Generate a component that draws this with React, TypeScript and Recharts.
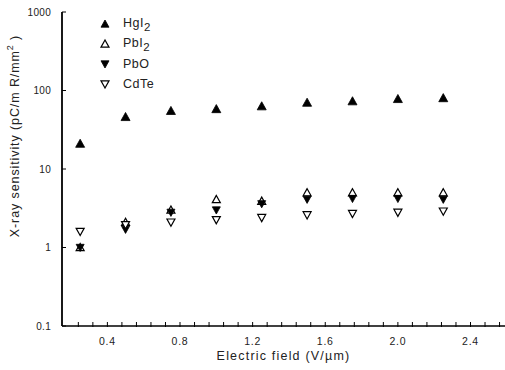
import React from 'react';
import { ScatterChart, Scatter, XAxis, YAxis, Legend } from 'recharts';

const fields = [0.25, 0.5, 0.75, 1.0, 1.25, 1.5, 1.75, 2.0, 2.25];
const hgi2 = [21, 46, 55, 58, 63, 70, 73, 78, 80];
const pbi2 = [1.0, 2.1, 3.0, 4.1, 3.9, 5.0, 5.0, 5.0, 5.0];
const pbo = [1.0, 1.7, 2.8, 3.0, 3.6, 4.1, 4.2, 4.2, 4.1];
const cdte = [1.6, 1.95, 2.1, 2.25, 2.4, 2.6, 2.7, 2.8, 2.9];

const xTicks = [0.24, 0.32, 0.4, 0.48, 0.56, 0.64, 0.72, 0.8, 0.88, 0.96, 1.04, 1.12, 1.2, 1.28, 1.36, 1.44, 1.52, 1.6, 1.68, 1.76, 1.84, 1.92, 2.0, 2.08, 2.16, 2.24, 2.32, 2.4, 2.48, 2.56];
const xMajor = ['0.4', '0.8', '1.2', '1.6', '2.0', '2.4'];
const yTicks = [0.1, 1, 10, 100, 1000];

const seriesNames = ['HgI2', 'PbI2', 'PbO', 'CdTe'];
const seriesBase = ['HgI', 'PbI', 'PbO', 'CdTe'];
const seriesSub = ['2', '2', '', ''];
const seriesDown = [false, false, true, true];
const seriesOpen = [false, true, false, true];
const seriesValues = [hgi2, pbi2, pbo, cdte];

const FONT = '"Liberation Sans", Arial, sans-serif';
const TXT = '#222';

function triPoints(cx: number, cy: number, down: boolean, s: number) {
  const h = s * 0.5;
  if (!down) return `${cx},${cy - h} ${cx - h},${cy + h * 0.8} ${cx + h},${cy + h * 0.8}`;
  return `${cx},${cy + h} ${cx - h},${cy - h * 0.8} ${cx + h},${cy - h * 0.8}`;
}

function makeShape(down: boolean, open: boolean, size: number) {
  return (props: any) => {
    const { cx, cy } = props;
    if (cx == null || cy == null) return <g />;
    return (
      <polygon
        points={triPoints(cx, cy, down, size)}
        fill={open ? '#fff' : '#000'}
        stroke="#000"
        strokeWidth={open ? 1.2 : 0.8}
      />
    );
  };
}

const XTick = (props: any) => {
  const { x, y, payload } = props;
  const v = payload.value as number;
  const lbl = v.toFixed(1);
  const isMajor = Math.round(v * 100) % 40 === 0 && xMajor.includes(lbl);
  return (
    <g>
      <line x1={x} x2={x} y1={y - 4} y2={y + 1} stroke="#000" strokeWidth={1} />
      {isMajor && (
        <text x={x} y={y + 19} textAnchor="middle" fontSize={10.5} letterSpacing={0.8} fontFamily={FONT} fill={TXT}>
          {lbl}
        </text>
      )}
    </g>
  );
};

const YTick = (props: any) => {
  const { x, y, payload } = props;
  return (
    <g>
      <line x1={x} x2={x + 4} y1={y} y2={y} stroke="#000" strokeWidth={1} />
      <text x={x - 11} y={y + 3.5} textAnchor="end" fontSize={10} letterSpacing={0.3} fontFamily={FONT} fill={TXT}>
        {String(payload.value)}
      </text>
    </g>
  );
};

const YLabel = (props: any) => {
  const vb = props.viewBox || { x: 0, y: 12, width: 62, height: 314 };
  const cx = vb.x + 16;
  const cy = vb.y + vb.height / 2 - 33;
  return (
    <text
      x={cx}
      y={cy}
      transform={`rotate(-90, ${cx}, ${cy})`}
      textAnchor="middle"
      dominantBaseline="middle"
      fontSize={12.5}
      letterSpacing={0.9}
      fontFamily={FONT}
      fill={TXT}
    >
      X-ray sensitivity (pC/m R/mm
      <tspan dy={-5} fontSize={9}>2</tspan>
      <tspan dy={5}> )</tspan>
    </text>
  );
};

const XLabel = (props: any) => {
  const vb = props.viewBox || { x: 62, y: 326, width: 443, height: 44 };
  return (
    <text
      x={vb.x + vb.width / 2}
      y={vb.y + 34}
      textAnchor="middle"
      fontSize={12.5}
      letterSpacing={1.2}
      fontFamily={FONT}
      fill={TXT}
    >
      Electric field (V/µm)
    </text>
  );
};

const LegendContent = () => {
  return (
    <div style={{ fontFamily: FONT, color: TXT, fontSize: 12.5, letterSpacing: 0.5 }}>
      {seriesNames.map((name, k) => (
        <div key={name} style={{ display: 'flex', alignItems: 'center', height: 20 }}>
          <svg width={12} height={12} style={{ marginRight: 12 }}>
            <polygon
              points={triPoints(6, 6, seriesDown[k], 8)}
              fill={seriesOpen[k] ? '#fff' : '#000'}
              stroke="#000"
              strokeWidth={seriesOpen[k] ? 1.2 : 0.8}
            />
          </svg>
          <span>
            {seriesBase[k]}
            {seriesSub[k] && <sub style={{ fontSize: 11.5, verticalAlign: -4 }}>{seriesSub[k]}</sub>}
          </span>
        </div>
      ))}
    </div>
  );
};

export default function App() {
  const sets = seriesValues.map((vals) => fields.map((x, i) => ({ x, y: vals[i] })));
  return (
    <div style={{ position: 'absolute', left: 0, top: 0, width: 505, height: 370, background: '#fff' }}>
      <ScatterChart width={505} height={370} margin={{ top: 12, right: 0, bottom: 0, left: 0 }}>
        <XAxis
          type="number"
          dataKey="x"
          domain={[0.15, 2.59]}
          ticks={xTicks}
          interval={0}
          allowDataOverflow
          tickSize={0}
          tickMargin={0}
          tickLine={false}
          tick={<XTick />}
          axisLine={{ stroke: '#000', strokeWidth: 1.5 }}
          height={44}
          label={<XLabel />}
        />
        <YAxis
          type="number"
          dataKey="y"
          scale="log"
          domain={[0.1, 1000]}
          ticks={yTicks}
          interval={0}
          allowDataOverflow
          tickSize={0}
          tickMargin={0}
          tickLine={false}
          tick={<YTick />}
          axisLine={{ stroke: '#000', strokeWidth: 1.8 }}
          width={62}
          label={<YLabel />}
        />
        <Legend
          layout="vertical"
          align="center"
          verticalAlign="middle"
          content={<LegendContent />}
          wrapperStyle={{ top: 14, left: 99, width: 'auto' }}
        />
        {sets.map((d, k) => (
          <Scatter
            key={seriesNames[k]}
            name={seriesNames[k]}
            data={d}
            isAnimationActive={false}
            fill="#000"
            shape={makeShape(seriesDown[k], seriesOpen[k], k === 0 ? 9 : 8)}
          />
        ))}
      </ScatterChart>
    </div>
  );
}
